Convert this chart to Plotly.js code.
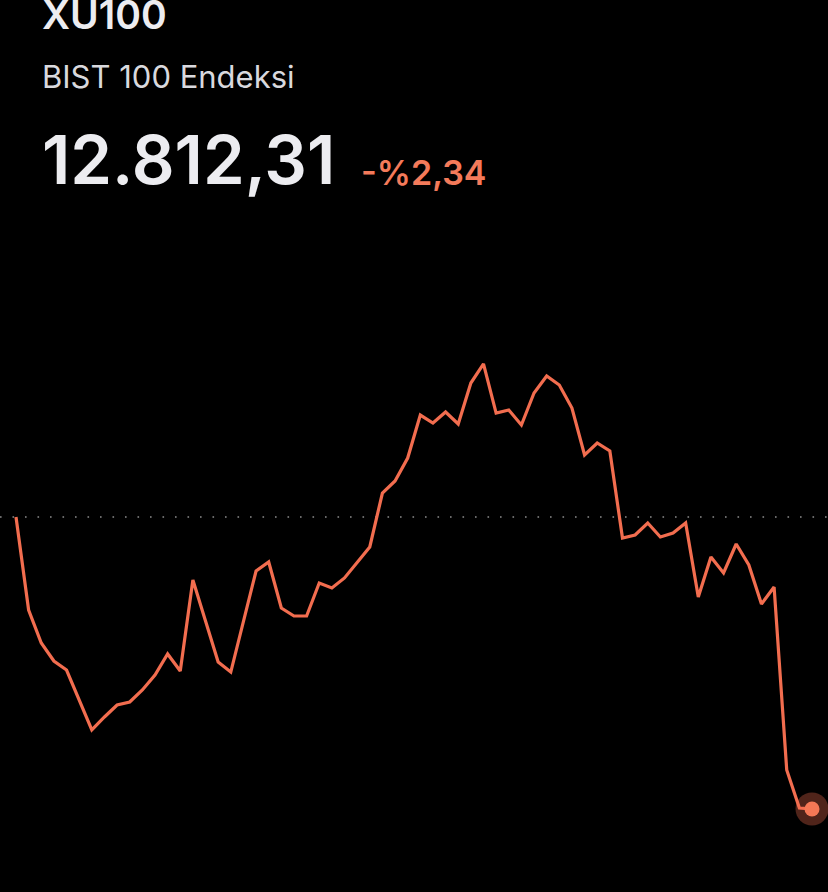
<!DOCTYPE html>
<html>
<head>
<meta charset="utf-8">
<script src="https://cdn.plot.ly/plotly-3.0.1.min.js"></script>
<style>
  html, body { margin: 0; padding: 0; background: #000; }
  #chart { width: 828px; height: 892px; }
</style>
</head>
<body>
<div id="chart"></div>
<script>
// ---- Data ----
const symbol = "XU100";
const indexName = "BIST 100 Endeksi";
const lastPriceLabel = "12.812,31";
const changeLabel = "-%2,34";
const previousClose = 13119.3;

// intraday index values (one point per interval)
const values = [
  13119.3, 13021.5, 12986.8, 12967.9, 12958.4, 12927.9, 12895.4, 12909.0,
  12921.6, 12924.8, 12937.4, 12953.2, 12975.3, 12957.4, 13053.1, 13010.0,
  12966.8, 12956.3, 13010.0, 13062.5, 13072.0, 13023.6, 13015.2, 13015.2,
  13049.9, 13044.7, 13055.2, 13070.9, 13087.8, 13144.5, 13157.2, 13181.3,
  13226.5, 13218.1, 13229.7, 13217.1, 13260.2, 13280.2, 13228.6, 13231.8,
  13216.0, 13249.7, 13267.5, 13258.1, 13233.9, 13184.5, 13197.1, 13188.7,
  13097.2, 13100.4, 13113.0, 13098.3, 13102.5, 13113.0, 13035.2, 13077.2,
  13060.4, 13090.9, 13068.8, 13027.8, 13045.7, 12853.3, 12813.3, 12812.3
];
const steps = values.map((v, i) => i);

// ---- Styling ----
const lineColor = "#F26D4F";
const W = 828, H = 892;
const px = x => x / W;
const py = y => 1 - y / H;

const lastIdx = values.length - 1;

const traces = [
  {
    x: steps, y: values, type: "scatter", mode: "lines",
    line: { color: lineColor, width: 3.2, shape: "linear" },
    hoverinfo: "skip"
  },
  {
    x: [steps[lastIdx]], y: [values[lastIdx]], type: "scatter", mode: "markers",
    marker: { color: "rgba(242,109,79,0.33)", size: 33, line: { width: 0 } },
    hoverinfo: "skip"
  },
  {
    x: [steps[lastIdx]], y: [values[lastIdx]], type: "scatter", mode: "markers",
    marker: { color: "#F47856", size: 15, line: { width: 0 } },
    hoverinfo: "skip"
  }
];

const layout = {
  width: W, height: H,
  paper_bgcolor: "#000", plot_bgcolor: "#000",
  margin: { l: 0, r: 0, t: 0, b: 0, pad: 0 },
  showlegend: false,
  hovermode: false,
  xaxis: { range: [-1.266, 64.266], visible: false, fixedrange: true },
  yaxis: { range: [12725.0, 13662.9], visible: false, fixedrange: true },
  shapes: [
    {
      type: "line", xref: "paper", yref: "y",
      x0: 0, x1: 1, y0: previousClose, y1: previousClose,
      line: { color: "#8c8c8c", width: 1.6, dash: "1.6px,10.9px" },
      layer: "below"
    }
  ],
  annotations: [
    {
      text: symbol, xref: "paper", yref: "paper", x: px(40), y: py(15),
      xanchor: "left", yanchor: "middle", showarrow: false,
      font: { family: "Inter, Roboto, sans-serif", size: 39, color: "#ECECF0", weight: 600 }
    },
    {
      text: indexName, xref: "paper", yref: "paper", x: px(40), y: py(76),
      xanchor: "left", yanchor: "middle", showarrow: false,
      font: { family: "Inter, Roboto, sans-serif", size: 31, color: "#D9D9DE", weight: 400 }
    },
    {
      text: lastPriceLabel, xref: "paper", yref: "paper", x: px(40), y: py(160),
      xanchor: "left", yanchor: "middle", showarrow: false,
      font: { family: "Inter, Roboto, sans-serif", size: 67, color: "#ECECF0", weight: 600 }
    },
    {
      text: changeLabel, xref: "paper", yref: "paper", x: px(359), y: py(172),
      xanchor: "left", yanchor: "middle", showarrow: false,
      font: { family: "Inter, Roboto, sans-serif", size: 34, color: "#F47A5A", weight: 600 }
    }
  ]
};

Plotly.newPlot("chart", traces, layout, { displayModeBar: false, staticPlot: true });
</script>
</body>
</html>
